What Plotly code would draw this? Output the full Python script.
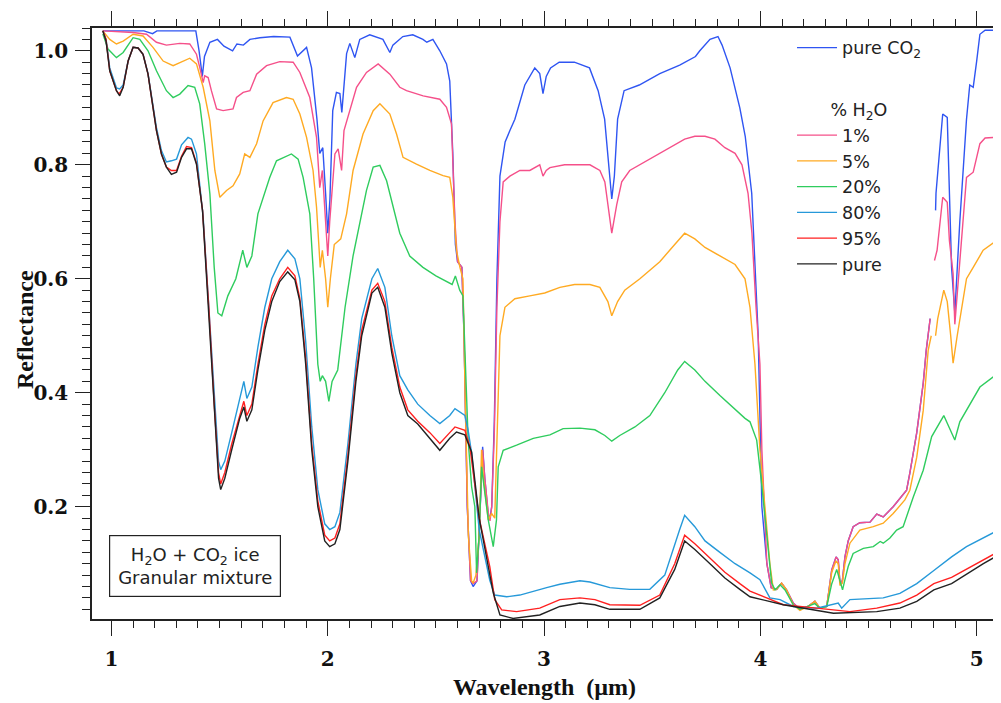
import plotly.graph_objects as go

# ---------------- data (wavelength in µm, reflectance) ----------------
co2_wl = [0.96, 1.15, 1.19, 1.21, 1.39, 1.405, 1.42, 1.43, 1.455, 1.49, 1.52, 1.56, 1.58, 1.61, 1.64, 1.686, 1.75, 1.825,
          1.86, 1.902, 1.925, 1.95, 1.963, 1.977, 1.99, 2.0, 2.01, 2.023, 2.04, 2.056, 2.065, 2.087, 2.102, 2.125, 2.148,
          2.194, 2.255, 2.287, 2.301, 2.347, 2.393, 2.44, 2.458, 2.486, 2.518, 2.549, 2.564, 2.578, 2.59, 2.6, 2.62, 2.63,
          2.645, 2.66, 2.672, 2.69, 2.705, 2.716, 2.726, 2.742, 2.75, 2.758, 2.77, 2.782, 2.796, 2.82, 2.842, 2.865, 2.911,
          2.957, 2.98, 2.995, 3.01, 3.03, 3.07, 3.14, 3.21, 3.25, 3.28, 3.3, 3.313, 3.325, 3.34, 3.37, 3.44, 3.535, 3.627,
          3.7, 3.72, 3.767, 3.804, 3.823, 3.86, 3.905, 3.93, 3.96, 3.99, 4.007, 4.03, 4.05, 4.075, 4.098, 4.121, 4.152,
          4.183, 4.22, 4.252, 4.275, 4.307, 4.33, 4.35, 4.36, 4.368, 4.379, 4.391, 4.406, 4.429, 4.46, 4.507, 4.538, 4.568,
          4.614, 4.66, 4.676, 4.691, 4.723, 4.753, 4.767, 4.785, 4.797, 4.81, 4.812, 4.843, 4.864, 4.884, 4.899, 4.922,
          4.953, 4.968, 4.984, 5.0, 5.015, 5.039, 5.08]
co2_r = [1.035, 1.035, 1.03, 1.035, 1.035, 1.0, 0.955, 0.99, 1.015, 1.02, 1.008, 1.0, 1.012, 1.01, 1.02, 1.023, 1.025, 1.024,
         0.991, 1.006, 0.97, 0.88, 0.82, 0.83, 0.75, 0.68, 0.74, 0.895, 0.927, 0.925, 0.892, 0.995, 1.013, 0.988, 1.02,
         1.028, 1.02, 0.997, 1.01, 1.025, 1.028, 1.02, 1.015, 1.02, 1.0, 0.977, 0.947, 0.82, 0.66, 0.63, 0.62, 0.5,
         0.2, 0.07, 0.06, 0.07, 0.2, 0.305, 0.25, 0.185, 0.18, 0.2, 0.35, 0.6, 0.78, 0.84, 0.86, 0.88, 0.94,
         0.97, 0.96, 0.925, 0.955, 0.97, 0.98, 0.98, 0.97, 0.93, 0.88, 0.8, 0.74, 0.78, 0.88, 0.93, 0.94, 0.96, 0.975,
         0.99, 1.0, 1.02, 1.025, 1.01, 0.97, 0.9, 0.85, 0.75, 0.5, 0.2, 0.1, 0.058, 0.055, 0.066, 0.054, 0.031,
         0.02, 0.025, 0.034, 0.022, 0.025, 0.089, 0.112, 0.107, 0.066, 0.07, 0.112, 0.14, 0.165, 0.172, 0.173, 0.187, 0.182,
         0.2, 0.223, 0.229, 0.259, 0.33, 0.417, 0.475, 0.53, None, 0.72, 0.75, 0.889, 0.883, 0.62, 0.54, 0.70,
         0.88, 0.94, 0.936, 0.982, 1.029, 1.036, 1.036]

h1_wl = [0.96, 1.1, 1.162, 1.208, 1.254, 1.316, 1.362, 1.393, 1.408, 1.424, 1.431, 1.447, 1.462, 1.486, 1.516, 1.562, 1.578,
         1.609, 1.64, 1.671, 1.717, 1.778, 1.84, 1.871, 1.917, 1.948, 1.963, 1.975, 1.99, 2.0, 2.009, 2.033, 2.048, 2.064,
         2.075, 2.102, 2.133, 2.179, 2.233, 2.287, 2.333, 2.364, 2.441, 2.518, 2.549, 2.572, 2.588, 2.6, 2.62, 2.63, 2.645,
         2.66, 2.672, 2.69, 2.705, 2.716, 2.726, 2.742, 2.75, 2.758, 2.77, 2.782, 2.796, 2.811, 2.842, 2.888, 2.934, 2.98,
         2.995, 3.01, 3.027, 3.095, 3.212, 3.258, 3.281, 3.30, 3.313, 3.336, 3.359, 3.396, 3.489, 3.581, 3.65, 3.697,
         3.744, 3.79, 3.836, 3.883, 3.915, 3.943, 3.961, 3.98, 3.998, 4.007, 4.03, 4.05, 4.075, 4.098, 4.121, 4.152,
         4.183, 4.22, 4.252, 4.275, 4.307, 4.33, 4.35, 4.36, 4.368, 4.379, 4.391, 4.406, 4.429, 4.46, 4.507, 4.538, 4.568,
         4.614, 4.66, 4.676, 4.691, 4.723, 4.753, 4.767, 4.785, 4.797, 4.805, 4.817, 4.843, 4.864, 4.874, 4.891, 4.899,
         4.915, 4.953, 4.984, 5.015, 5.039, 5.08]
h1_r = [1.035, 1.032, 1.029, 1.015, 1.01, 1.013, 1.012, 0.994, 0.971, 0.944, 0.956, 0.953, 0.93, 0.898, 0.895, 0.898, 0.918,
        0.927, 0.93, 0.959, 0.974, 0.981, 0.98, 0.962, 0.918, 0.848, 0.76, 0.79, 0.70, 0.64, 0.70, 0.819, 0.828, 0.79,
        0.86, 0.895, 0.936, 0.962, 0.977, 0.959, 0.936, 0.93, 0.921, 0.915, 0.901, 0.872, 0.70, 0.63, 0.62, 0.5, 0.2,
        0.07, 0.065, 0.07, 0.2, 0.3, 0.25, 0.19, 0.175, 0.2, 0.33, 0.55, 0.7, 0.77, 0.78, 0.79, 0.79, 0.8,
        0.78, 0.79, 0.795, 0.8, 0.8, 0.79, 0.77, 0.72, 0.68, 0.73, 0.77, 0.79, 0.81, 0.83, 0.845, 0.85,
        0.85, 0.845, 0.83, 0.82, 0.8, 0.75, 0.68, 0.55, 0.45, 0.3, 0.1, 0.058, 0.055, 0.066, 0.054, 0.031,
        0.02, 0.025, 0.034, 0.022, 0.025, 0.089, 0.112, 0.107, 0.066, 0.07, 0.112, 0.14, 0.165, 0.172, 0.173, 0.187, 0.182,
        0.2, 0.223, 0.229, 0.259, 0.33, 0.417, 0.475, 0.53, None, 0.632, 0.65, 0.743, 0.734, 0.667, 0.609, 0.52,
        0.6, 0.778, 0.787, 0.837, 0.847, 0.848]

h5_wl = [0.96, 0.992, 1.023, 1.054, 1.1, 1.146, 1.192, 1.239, 1.285, 1.331, 1.362, 1.393, 1.424, 1.455, 1.478, 1.501, 1.532,
         1.562, 1.593, 1.616, 1.64, 1.671, 1.701, 1.747, 1.809, 1.84, 1.871, 1.902, 1.932, 1.948, 1.965, 1.975, 1.99, 2.0,
         2.012, 2.03, 2.06, 2.087, 2.117, 2.163, 2.21, 2.241, 2.287, 2.318, 2.348, 2.41, 2.472, 2.533, 2.564, 2.578, 2.595,
         2.611, 2.625, 2.635, 2.65, 2.665, 2.672, 2.685, 2.70, 2.711, 2.72, 2.742, 2.758, 2.772, 2.782, 2.796, 2.819, 2.865,
         2.934, 3.003, 3.073, 3.141, 3.212, 3.258, 3.295, 3.313, 3.34, 3.373, 3.443, 3.535, 3.604, 3.65, 3.697, 3.744,
         3.813, 3.883, 3.929, 3.952, 3.975, 3.998, 4.021, 4.044, 4.06, 4.075, 4.098, 4.121, 4.152, 4.183, 4.22, 4.252,
         4.275, 4.307, 4.33, 4.35, 4.36, 4.368, 4.379, 4.391, 4.414, 4.46, 4.522, 4.568, 4.614, 4.668, 4.691, 4.723, 4.753,
         4.776, 4.79, 4.8, 4.81, 4.82, 4.848, 4.864, 4.88, 4.891, 4.91, 4.953, 4.984, 5.03, 5.08]
h5_r = [1.035, 1.02, 1.012, 1.017, 1.029, 1.026, 1.006, 0.982, 0.974, 0.982, 0.987, 0.977, 0.936, 0.877, 0.79, 0.743, 0.755,
        0.763, 0.784, 0.819, 0.813, 0.837, 0.877, 0.909, 0.918, 0.915, 0.889, 0.848, 0.79, 0.726, 0.62, 0.65, 0.60, 0.55,
        0.60, 0.66, 0.67, 0.714, 0.79, 0.854, 0.895, 0.907, 0.889, 0.854, 0.813, 0.801, 0.79, 0.781, 0.778, 0.743, 0.65,
        0.62, 0.6, 0.4, 0.15, 0.07, 0.066, 0.08, 0.15, 0.3, 0.25, 0.177, 0.188, 0.18, 0.3, 0.5, 0.55, 0.565,
        0.57, 0.575, 0.585, 0.59, 0.59, 0.585, 0.56, 0.535, 0.56, 0.58, 0.6, 0.63, 0.66, 0.68, 0.67, 0.655,
        0.64, 0.625, 0.6, 0.55, 0.45, 0.3, 0.2, 0.1, 0.054, 0.055, 0.066, 0.054, 0.028, 0.018, 0.025, 0.034,
        0.022, 0.025, 0.085, 0.105, 0.1, 0.062, 0.066, 0.1, 0.136, 0.159, 0.165, 0.171, 0.188, 0.212, 0.229, 0.287, 0.369,
        0.475, 0.5, None, 0.5, 0.53, 0.58, 0.56, 0.5, 0.452, 0.5, 0.6, 0.62, 0.65, 0.664]

h20_wl = [0.96, 0.984, 1.023, 1.054, 1.1, 1.131, 1.169, 1.208, 1.254, 1.285, 1.316, 1.354, 1.385, 1.408, 1.431, 1.455, 1.475,
          1.492, 1.51, 1.538, 1.575, 1.607, 1.626, 1.649, 1.677, 1.732, 1.763, 1.832, 1.863, 1.886, 1.917, 1.935, 1.954,
          1.965, 1.975, 1.99, 2.005, 2.02, 2.046, 2.08, 2.117, 2.179, 2.21, 2.241, 2.272, 2.302, 2.333, 2.379, 2.44, 2.50,
          2.55, 2.575, 2.59, 2.61, 2.625, 2.634, 2.649, 2.665, 2.68, 2.688, 2.70, 2.711, 2.726, 2.742, 2.765, 2.78, 2.788,
          2.811, 2.873, 2.95, 3.027, 3.088, 3.166, 3.235, 3.281, 3.313, 3.35, 3.42, 3.489, 3.558, 3.618, 3.65, 3.697,
          3.744, 3.813, 3.883, 3.929, 3.952, 3.983, 4.006, 4.029, 4.052, 4.068, 4.091, 4.114, 4.152, 4.183, 4.22, 4.252,
          4.275, 4.307, 4.33, 4.353, 4.368, 4.38, 4.391, 4.406, 4.429, 4.476, 4.522, 4.554, 4.568, 4.599, 4.63, 4.66,
          4.707, 4.753, 4.792, 4.848, 4.899, 4.922, 5.015, 5.077]
h20_r = [1.03, 1.003, 0.988, 0.997, 1.023, 1.02, 1.0, 0.965, 0.93, 0.918, 0.924, 0.939, 0.936, 0.907, 0.837, 0.749, 0.62,
         0.54, 0.535, 0.57, 0.60, 0.65, 0.62, 0.64, 0.714, 0.778, 0.807, 0.819, 0.81, 0.778, 0.714, 0.6, 0.45,
         0.42, 0.43, 0.42, 0.385, 0.42, 0.44, 0.55, 0.64, 0.755, 0.796, 0.799, 0.772, 0.726, 0.68, 0.64, 0.62, 0.605,
         0.595, 0.59, 0.605, 0.58, 0.57, 0.475, 0.317, 0.235, 0.2, 0.084, 0.15, 0.27, 0.224, 0.177, 0.13, 0.177, 0.27,
         0.299, 0.308, 0.32, 0.326, 0.337, 0.338, 0.335, 0.325, 0.315, 0.325, 0.34, 0.36, 0.4, 0.44, 0.455, 0.44,
         0.42, 0.395, 0.37, 0.355, 0.349, 0.317, 0.24, 0.147, 0.066, 0.054, 0.063, 0.054, 0.028, 0.02, 0.025, 0.03,
         0.022, 0.025, 0.065, 0.09, 0.07, 0.054, 0.072, 0.095, 0.118, 0.127, 0.13, 0.139, 0.136, 0.145, 0.159, 0.165,
         0.217, 0.264, 0.323, 0.36, 0.317, 0.349, 0.41, 0.428]

h80_wl = [0.96, 0.975, 0.992, 1.023, 1.038, 1.054, 1.077, 1.1, 1.123, 1.146, 1.169, 1.192, 1.208, 1.231, 1.254, 1.277, 1.301,
          1.324, 1.354, 1.37, 1.393, 1.424, 1.45, 1.475, 1.495, 1.505, 1.524, 1.556, 1.593, 1.612, 1.626, 1.649, 1.677,
          1.709, 1.741, 1.778, 1.815, 1.848, 1.871, 1.898, 1.926, 1.954, 1.986, 2.009, 2.033, 2.056, 2.093, 2.13, 2.157,
          2.204, 2.231, 2.264, 2.296, 2.333, 2.37, 2.416, 2.472, 2.518, 2.564, 2.588, 2.634, 2.649, 2.665, 2.70, 2.749,
          2.772, 2.827, 2.888, 3.012, 3.073, 3.166, 3.212, 3.304, 3.396, 3.489, 3.558, 3.627, 3.65, 3.697, 3.744, 3.813,
          3.883, 3.952, 3.998, 4.044, 4.091, 4.152, 4.26, 4.36, 4.376, 4.414, 4.568, 4.645, 4.723, 4.802, 4.884, 4.953,
          5.031, 5.085]
h80_r = [1.035, 1.02, 0.97, 0.935, 0.933, 0.94, 0.982, 1.006, 1.005, 0.994, 0.96, 0.905, 0.865, 0.825, 0.805, 0.807, 0.81,
         0.835, 0.848, 0.845, 0.819, 0.708, 0.55, 0.4, 0.28, 0.265, 0.28, 0.33, 0.39, 0.42, 0.39, 0.41, 0.48,
         0.55, 0.6, 0.63, 0.65, 0.635, 0.6, 0.49, 0.34, 0.23, 0.17, 0.16, 0.165, 0.19, 0.31, 0.45, 0.53,
         0.6, 0.618, 0.585, 0.5, 0.43, 0.405, 0.38, 0.36, 0.346, 0.36, 0.372, 0.36, 0.334, 0.294, 0.16, 0.071,
         0.045, 0.042, 0.045, 0.058, 0.064, 0.07, 0.068, 0.058, 0.055, 0.055, 0.08, 0.16, 0.185, 0.165, 0.14, 0.12,
         0.1, 0.084, 0.072, 0.04, 0.037, 0.025, 0.022, 0.031, 0.022, 0.037, 0.04, 0.048, 0.065, 0.088, 0.112, 0.13,
         0.145, 0.156]

h95_wl = [0.96, 0.975, 0.992, 1.023, 1.035, 1.054, 1.077, 1.1, 1.123, 1.146, 1.169, 1.192, 1.208, 1.231, 1.254, 1.277, 1.301,
          1.324, 1.347, 1.37, 1.393, 1.421, 1.45, 1.475, 1.495, 1.505, 1.524, 1.556, 1.593, 1.612, 1.626, 1.649, 1.677,
          1.709, 1.741, 1.778, 1.815, 1.848, 1.871, 1.898, 1.926, 1.954, 1.986, 2.009, 2.033, 2.056, 2.093, 2.13, 2.157,
          2.204, 2.231, 2.264, 2.296, 2.333, 2.37, 2.416, 2.472, 2.518, 2.564, 2.588, 2.634, 2.657, 2.70, 2.749, 2.772,
          2.804, 2.873, 2.98, 3.073, 3.166, 3.235, 3.304, 3.443, 3.535, 3.604, 3.65, 3.697, 3.767, 3.836, 3.905, 3.952,
          4.029, 4.106, 4.26, 4.414, 4.538, 4.645, 4.723, 4.802, 4.884, 4.953, 5.031, 5.085]
h95_r = [1.035, 1.02, 0.965, 0.93, 0.924, 0.936, 0.982, 1.006, 1.005, 0.994, 0.959, 0.901, 0.86, 0.819, 0.796, 0.79, 0.79,
         0.815, 0.832, 0.83, 0.803, 0.72, 0.55, 0.38, 0.26, 0.24, 0.26, 0.31, 0.36, 0.385, 0.36, 0.38, 0.45,
         0.52, 0.57, 0.6, 0.62, 0.605, 0.565, 0.46, 0.31, 0.21, 0.15, 0.14, 0.145, 0.17, 0.29, 0.43, 0.51,
         0.58, 0.592, 0.56, 0.48, 0.41, 0.37, 0.35, 0.33, 0.311, 0.33, 0.34, 0.334, 0.305, 0.18, 0.095, 0.037,
         0.019, 0.016, 0.022, 0.037, 0.04, 0.037, 0.028, 0.027, 0.045, 0.1, 0.15, 0.135, 0.11, 0.085, 0.065, 0.052,
         0.04, 0.028, 0.022, 0.016, 0.022, 0.031, 0.045, 0.065, 0.076, 0.09, 0.107, 0.118]

pure_wl = [0.96, 0.975, 0.992, 1.023, 1.038, 1.054, 1.077, 1.1, 1.123, 1.146, 1.169, 1.192, 1.208, 1.231, 1.254, 1.277, 1.301,
           1.324, 1.347, 1.37, 1.393, 1.421, 1.45, 1.475, 1.495, 1.505, 1.524, 1.556, 1.593, 1.612, 1.626, 1.649, 1.677,
           1.709, 1.741, 1.778, 1.815, 1.848, 1.871, 1.898, 1.926, 1.954, 1.986, 2.009, 2.033, 2.056, 2.093, 2.13, 2.157,
           2.204, 2.231, 2.264, 2.296, 2.333, 2.37, 2.416, 2.472, 2.518, 2.564, 2.595, 2.634, 2.665, 2.70, 2.765, 2.796,
           2.857, 2.98, 3.073, 3.166, 3.235, 3.304, 3.443, 3.535, 3.604, 3.65, 3.697, 3.767, 3.836, 3.905, 3.952, 4.106,
           4.338, 4.538, 4.645, 4.723, 4.802, 4.884, 4.953, 5.031, 5.085]
pure_r = [1.035, 1.017, 0.965, 0.93, 0.921, 0.936, 0.982, 1.006, 1.005, 0.994, 0.959, 0.901, 0.86, 0.819, 0.796, 0.783, 0.787,
          0.813, 0.828, 0.828, 0.801, 0.72, 0.54, 0.37, 0.25, 0.23, 0.25, 0.3, 0.355, 0.375, 0.35, 0.37, 0.44,
          0.51, 0.56, 0.595, 0.612, 0.598, 0.56, 0.45, 0.30, 0.20, 0.14, 0.13, 0.135, 0.16, 0.28, 0.42, 0.50,
          0.575, 0.585, 0.55, 0.47, 0.40, 0.36, 0.345, 0.32, 0.299, 0.32, 0.331, 0.326, 0.296, 0.18, 0.049, 0.01,
          0.004, 0.01, 0.025, 0.031, 0.028, 0.02, 0.02, 0.04, 0.09, 0.14, 0.125, 0.1, 0.075, 0.055, 0.042, 0.028,
          0.013, 0.016, 0.022, 0.034, 0.054, 0.065, 0.082, 0.1, 0.112]

series_names = ["pure CO<sub>2</sub>", "1%", "5%", "20%", "80%", "95%", "pure"]
series_colors = ["#2f55f2", "#f5508a", "#ffaa22", "#2fcc5e", "#2699d9", "#ff2020", "#222222"]
series_wl = [co2_wl, h1_wl, h5_wl, h20_wl, h80_wl, h95_wl, pure_wl]
series_r = [co2_r, h1_r, h5_r, h20_r, h80_r, h95_r, pure_r]

x_ticks = [1, 2, 3, 4, 5]
y_ticks = [0.2, 0.4, 0.6, 0.8, 1.0]
y_tick_labels = ["0.2", "0.4", "0.6", "0.8", "1.0"]

# ---------------- figure ----------------
sans = "DejaVu Sans, Liberation Sans, Arial"
legend_font = dict(family=sans, size=17.5, color="#222")

fig = go.Figure()
for i, (name, col, wl, r) in enumerate(zip(series_names, series_colors, series_wl, series_r)):
    kw = {}
    if i == 0:
        kw["legendgroup"] = "co2"
    else:
        kw["legendgroup"] = "h2o"
        kw["legendgrouptitle"] = dict(text="\u00a0\u00a0\u00a0\u00a0\u00a0\u00a0% H<sub>2</sub>O", font=legend_font)
    fig.add_trace(go.Scatter(x=wl, y=r, mode="lines", name=name,
                             line=dict(color=col, width=1.4), connectgaps=False, **kw))

tick_font = dict(family="DejaVu Serif, serif", size=20, color="#111", weight="bold")
title_font = dict(family="Liberation Serif, Times New Roman, serif", size=24, color="#111", weight="bold")

# the page body adds an 8 px offset, so margins are shifted accordingly
fig.update_layout(
    width=1001, height=703,
    margin=dict(l=84, r=12, t=20, b=92),
    paper_bgcolor="white", plot_bgcolor="white",
    showlegend=True,
    legend=dict(x=0.7735, y=0.997, xanchor="left", yanchor="top", bgcolor="rgba(0,0,0,0)",
                font=legend_font, traceorder="grouped", tracegroupgap=36, itemwidth=40),
    xaxis=dict(range=[0.91, 5.094], tickvals=x_ticks, ticktext=[str(v) for v in x_ticks],
               ticks="outside", ticklen=15, tickwidth=1.3, tickcolor="#222",
               minor=dict(dtick=0.1, tick0=0, ticks="outside", ticklen=7, tickwidth=1.3, tickcolor="#222"),
               showline=True, linecolor="#222", linewidth=1.6, mirror="ticks", showgrid=False, zeroline=False,
               tickfont=tick_font, ticklabelstandoff=6, automargin=False,
               title=dict(text="Wavelength  (µm)", font=title_font, standoff=8)),
    yaxis=dict(range=[0.003, 1.04], tickvals=y_ticks, ticktext=y_tick_labels,
               ticks="outside", ticklen=15, tickwidth=1.3, tickcolor="#222",
               minor=dict(dtick=0.02, tick0=0, ticks="outside", ticklen=8, tickwidth=1.3, tickcolor="#222"),
               showline=True, linecolor="#222", linewidth=1.6, mirror="ticks", showgrid=False, zeroline=False,
               tickfont=tick_font, ticklabelstandoff=3, automargin=False),
)

fig.add_annotation(xref="paper", yref="paper", x=-0.074, y=0.489, xanchor="center", yanchor="middle",
                   text="Reflectance", textangle=-90, showarrow=False, font=title_font)

fig.add_annotation(xref="paper", yref="paper", x=0.0188, y=0.037, xanchor="left", yanchor="bottom",
                   text="H<sub>2</sub>O + CO<sub>2</sub> ice<br>Granular mixture", showarrow=False,
                   align="center", font=dict(family=sans, size=18, color="#222"),
                   bordercolor="#222", borderwidth=1.2, borderpad=4, bgcolor="white", width=162, height=52)

fig.write_html("out.html")
